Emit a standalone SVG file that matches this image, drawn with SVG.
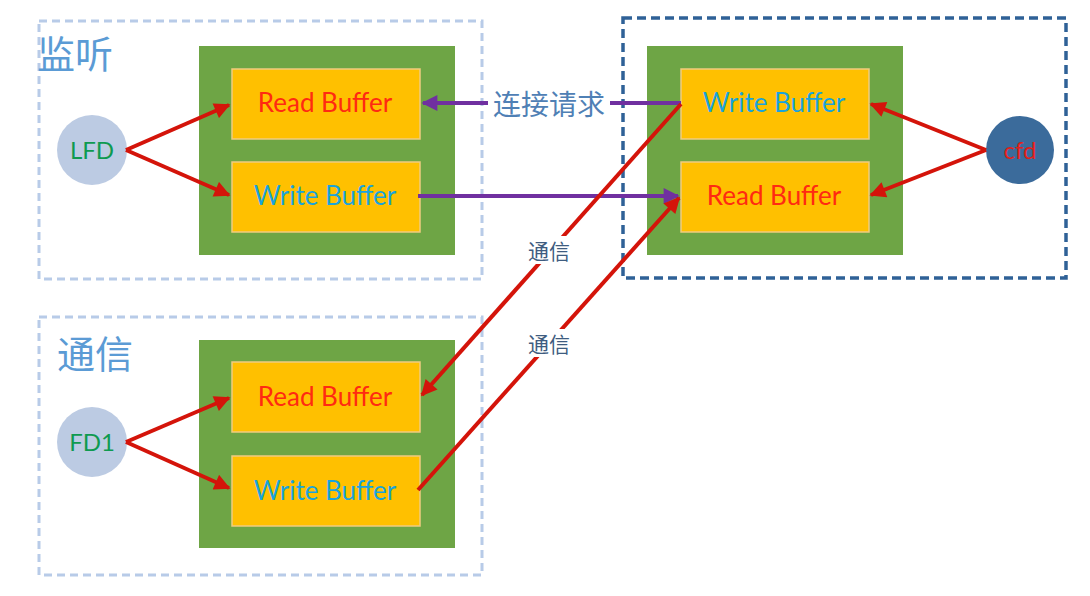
<svg xmlns="http://www.w3.org/2000/svg" width="1090" height="596" viewBox="0 0 1090 596">
<style>
.zone{fill:none;stroke:#b8cbe8;stroke-width:3;stroke-dasharray:8 5}
.zone2{fill:none;stroke:#2f6197;stroke-width:3.5;stroke-dasharray:9 5}
.green{fill:#6ea545}
.buf{fill:#ffc000;stroke:#f0cc80;stroke-width:1.5}
.t{font-family:Lato,"Open Sans","Liberation Sans",sans-serif;font-size:26px;text-anchor:middle;dominant-baseline:central}
.rd{fill:#ff2a12}
.wr{fill:#1aa3dc}
.zl{font-family:"Noto Sans CJK SC",sans-serif;font-size:38px;fill:#5b9bd5}
.cl{font-family:"Noto Sans CJK SC",sans-serif;text-anchor:middle;dominant-baseline:central}
.red{stroke:#d4140a;stroke-width:4;fill:none}
.pur{stroke:#7030a0;stroke-width:4;fill:none}
</style>
<defs>
<marker id="ar" viewBox="0 0 10 10" refX="9" refY="5" markerWidth="4.5" markerHeight="4" markerUnits="strokeWidth" orient="auto"><path d="M0,0 L10,5 L0,10 z" fill="#d4140a"/></marker>
<marker id="ap" viewBox="0 0 10 10" refX="9" refY="5" markerWidth="4.5" markerHeight="4" markerUnits="strokeWidth" orient="auto"><path d="M0,0 L10,5 L0,10 z" fill="#7030a0"/></marker>
</defs>
<rect width="1090" height="596" fill="#ffffff"/>

<g id="zone-listen">
<rect class="zone" x="39" y="21" width="443" height="258"/>
<text class="zl" x="37" y="68">监听</text>
</g>
<g id="zone-comm">
<rect class="zone" x="39" y="317" width="443" height="258"/>
<text class="zl" x="57" y="368">通信</text>
</g>
<g id="zone-client">
<rect class="zone2" x="623" y="18" width="443" height="260"/>
</g>

<g id="listen-buffers">
<rect class="green" x="199" y="46" width="256" height="209"/>
<rect class="buf" x="232" y="69" width="188" height="70"/>
<text class="t rd" x="325" y="102">Read Buffer</text>
<rect class="buf" x="232" y="162" width="188" height="70"/>
<text class="t wr" x="325" y="195">Write Buffer</text>
</g>
<g id="comm-buffers">
<rect class="green" x="199" y="340" width="256" height="208"/>
<rect class="buf" x="232" y="362" width="188" height="70"/>
<text class="t rd" x="325" y="396">Read Buffer</text>
<rect class="buf" x="232" y="456" width="188" height="70"/>
<text class="t wr" x="325" y="490">Write Buffer</text>
</g>
<g id="client-buffers">
<rect class="green" x="647" y="46" width="256" height="209"/>
<rect class="buf" x="681" y="69" width="188" height="70"/>
<text class="t wr" x="774" y="102">Write Buffer</text>
<rect class="buf" x="681" y="162" width="188" height="70"/>
<text class="t rd" x="774" y="195">Read Buffer</text>
</g>

<g id="lfd">
<circle cx="92" cy="150" r="35" fill="#bccbe3"/>
<text class="t" x="92" y="149" fill="#0f9a50" style="font-size:24px">LFD</text>
</g>
<g id="fd1">
<circle cx="92" cy="442" r="35" fill="#bccbe3"/>
<text class="t" x="92" y="441" fill="#0f9a50" style="font-size:24px">FD1</text>
</g>
<g id="cfd">
<circle cx="1020" cy="150" r="34" fill="#3b6b9b"/>
<text class="t" x="1020" y="149" fill="#e0201a" style="font-size:24px">cfd</text>
</g>

<g id="connectors">
<line class="red" x1="126" y1="150" x2="229" y2="105" marker-end="url(#ar)"/>
<line class="red" x1="126" y1="150" x2="229" y2="195" marker-end="url(#ar)"/>
<line class="red" x1="126" y1="442" x2="229" y2="398" marker-end="url(#ar)"/>
<line class="red" x1="126" y1="442" x2="229" y2="488" marker-end="url(#ar)"/>
<line class="red" x1="986" y1="150" x2="871" y2="104" marker-end="url(#ar)"/>
<line class="red" x1="986" y1="150" x2="871" y2="195" marker-end="url(#ar)"/>
<line class="pur" x1="681" y1="103" x2="423" y2="103" marker-end="url(#ap)"/>
<line class="pur" x1="418" y1="196" x2="678" y2="196" marker-end="url(#ap)"/>
<line class="red" x1="681" y1="104" x2="422" y2="395" marker-end="url(#ar)"/>
<line class="red" x1="418" y1="490" x2="679" y2="198" marker-end="url(#ar)"/>
<rect x="488" y="86" width="122" height="34" fill="#ffffff"/>
<text class="cl" x="549" y="103" font-size="28" fill="#4f80b5">连接请求</text>
<rect x="522" y="236" width="54" height="28" fill="#ffffff"/>
<text class="cl" x="549" y="250" font-size="21" fill="#3e5c80">通信</text>
<rect x="522" y="329" width="54" height="28" fill="#ffffff"/>
<text class="cl" x="549" y="343" font-size="21" fill="#3e5c80">通信</text>
</g>
</svg>
